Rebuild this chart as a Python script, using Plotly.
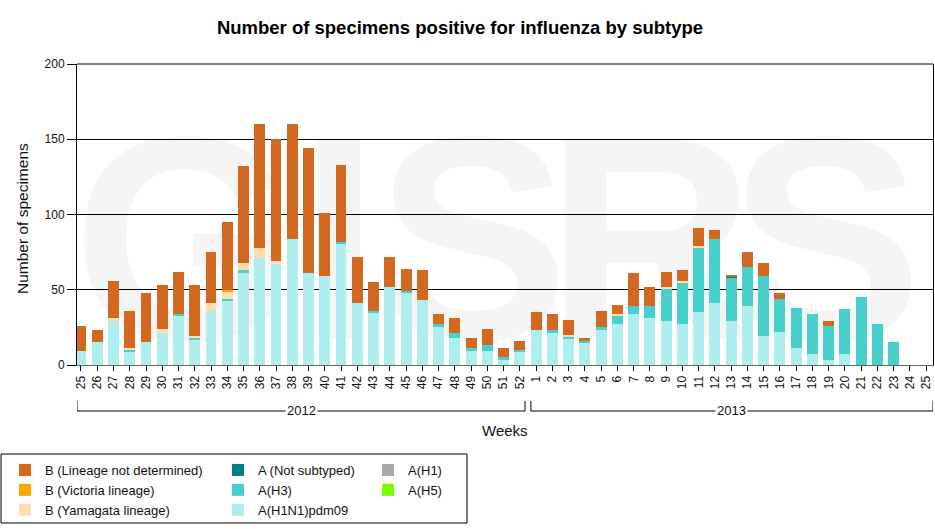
import plotly.graph_objects as go

# Weeks: 2012 wk 25-52, 2013 wk 1-25
weeks = [str(w) for w in range(25, 53)] + [str(w) for w in range(1, 26)]
n_2012 = 28

h1n1pdm09 = [9, 15, 29, 9, 15, 21, 33, 17, 36, 43, 61, 71, 67, 84, 61, 59, 81, 41, 35, 52, 48, 43, 25, 18, 9, 9, 3, 9,
             23, 21, 17, 15, 23, 27, 34, 31, 29, 27, 35, 41, 29, 39, 19, 22, 11, 7, 3, 7, 0, 0, 0, 0, 0]
h3 = [0, 0, 0, 1, 0, 0, 1, 1, 0, 1, 2, 0, 0, 0, 0, 0, 1, 0, 1, 0, 1, 0, 2, 3, 2, 4, 2, 1,
      0, 2, 2, 1, 2, 6, 5, 8, 22, 28, 43, 43, 29, 26, 40, 22, 27, 27, 23, 30, 45, 27, 15, 0, 0]
h1 = [0] * 53
h5 = [0] * 53
not_subtyped = [0] * 40 + [1] + [0] * 12
yamagata = [0, 0, 2, 1, 0, 3, 0, 1, 5, 5, 5, 7, 2, 0, 0, 0, 0, 0, 0, 0, 0, 0, 0, 0, 0, 0, 0, 0,
            0, 0, 1, 0, 0, 1, 0, 0, 1, 1, 1, 0, 0, 0, 0, 0, 0, 0, 0, 0, 0, 0, 0, 0, 0]
victoria = [0] * 9 + [1] + [0] * 43
b_not_determined = [17, 8, 25, 25, 33, 29, 28, 34, 34, 45, 64, 82, 81, 76, 83, 42, 51, 31, 19, 20, 15, 20, 7, 10, 7, 11, 6, 6,
                    12, 11, 10, 2, 11, 6, 22, 13, 10, 7, 12, 6, 1, 10, 9, 4, 0, 0, 3, 0, 0, 0, 0, 0, 0]

x = list(range(len(weeks)))

# (name, values, colour, legend, rank) in stacking order, bottom first
series = [
    ("A(H1N1)pdm09", h1n1pdm09, "#AFEEEE", "legend2", 3),
    ("A(H3)", h3, "#48D1CC", "legend2", 2),
    ("A(H1)", h1, "#A9A9A9", "legend3", 1),
    ("A(H5)", h5, "#7CFC00", "legend3", 2),
    ("A (Not subtyped)", not_subtyped, "#008080", "legend2", 1),
    ("B (Yamagata lineage)", yamagata, "#FFDEAD", "legend", 3),
    ("B (Victoria lineage)", victoria, "#FFA500", "legend", 2),
    ("B (Lineage not determined)", b_not_determined, "#D2691E", "legend", 1),
]

fig = go.Figure()
for name, vals, col, leg, rank in series:
    fig.add_trace(go.Bar(x=x, y=vals, name=name, marker=dict(color=col, line=dict(width=0)),
                         legend=leg, legendrank=rank))

font = "Liberation Sans, Arial, sans-serif"
x_lo, x_hi = -0.245, 52.42  # categories run a little tight against the box edges

# faint GISRS watermark behind the bars
shapes = []
for letter, x0, x1 in [("G", 110, 260), ("I", 309, 369), ("S", 396, 549), ("R", 571, 729), ("S", 748, 903)]:
    shapes.append(dict(type="rect", xref="paper", yref="paper", layer="below",
                       x0=(x0 - 77) / 856, x1=(x1 - 77) / 856, y0=(365 - 322) / 301, y1=(365 - 100) / 301,
                       line=dict(width=0), fillcolor="rgba(0,0,0,0)",
                       label=dict(text=letter, textposition="middle center",
                                  font=dict(family="Liberation Sans Narrow, Arial Narrow, " + font,
                                            size=290, color="#f5f5f5", weight="bold"))))

# top border of plot box
shapes.append(dict(type="line", xref="paper", yref="paper", x0=0, x1=1, y0=1, y1=1,
                   line=dict(color="black", width=1)))

# year brackets
yb, yt = (365 - 411) / 301, (365 - 401) / 301
brackets = [(x_lo, n_2012 - 0.68), (n_2012 - 0.32, x_hi)]
for x0, x1 in brackets:
    for xs in [(x0, x0, yt, yb), (x0, x1, yb, yb), (x1, x1, yb, yt)]:
        shapes.append(dict(type="line", xref="x", yref="paper", x0=xs[0], x1=xs[1], y0=xs[2], y1=xs[3],
                           line=dict(color="black", width=1)))

# legend frame
shapes.append(dict(type="rect", xref="paper", yref="paper",
                   x0=(1 - 77) / 856, x1=(467 - 77) / 856, y0=(365 - 523) / 301, y1=(365 - 454) / 301,
                   line=dict(color="black", width=1), fillcolor="rgba(0,0,0,0)"))

annotations = [
    dict(text=yr, x=(b[0] + b[1]) / 2, xref="x", y=yb, yref="paper", showarrow=False,
         bgcolor="white", font=dict(size=13, color="#111"), xanchor="center", yanchor="middle")
    for yr, b in zip(["2012", "2013"], brackets)
] + [
    dict(text="Weeks", x=0.5, xref="paper", y=(365 - 431) / 301, yref="paper", showarrow=False,
         font=dict(size=15, color="#111"), xanchor="center", yanchor="middle"),
    dict(text="Number of specimens", x=(23 - 77) / 856, xref="paper", y=(365 - 219) / 301, yref="paper",
         showarrow=False, textangle=-90, font=dict(size=15.5, color="#111"), xanchor="center", yanchor="middle"),
]

leg_common = dict(orientation="v", yanchor="top", xanchor="left", y=(365 - 455) / 301,
                  traceorder="normal", font=dict(size=13, color="#111"), bgcolor="rgba(0,0,0,0)")

fig.update_layout(
    width=935, height=529,
    barmode="stack", bargap=0.33,
    title=dict(text="<b>Number of specimens positive for influenza by subtype</b>", x=460 / 935, xref="container",
               xanchor="center", y=1 - 28 / 529, yanchor="middle", font=dict(size=18.5, color="black")),
    font=dict(family=font, size=12, color="#111"),
    paper_bgcolor="white", plot_bgcolor="white",
    margin=dict(l=77, r=2, t=64, b=164, autoexpand=False),
    xaxis=dict(range=[x_lo, x_hi], tickmode="array", tickvals=x, ticktext=weeks,
               tickangle=-90, ticks="outside", ticklen=5, tickcolor="black", showgrid=False,
               showline=True, linecolor="#666", linewidth=1, zeroline=False,
               ticklabeloverflow="allow", tickfont=dict(size=12, color="#111")),
    yaxis=dict(range=[0, 200], dtick=50, ticks="outside", ticklen=9, tickcolor="black",
               showgrid=True, gridcolor="black", gridwidth=1, showline=True, linecolor="black",
               linewidth=1, mirror=True, zeroline=False, tickfont=dict(size=12, color="#111")),
    legend=dict(x=(5 - 77) / 856, **leg_common),
    legend2=dict(x=(218 - 77) / 856, **leg_common),
    legend3=dict(x=(368 - 77) / 856, **leg_common),
    shapes=shapes,
    annotations=annotations,
)

# drop the page's default 8px body margin so the figure sits at the window's corner
fig.write_html("out.html", config={"displayModeBar": False},
               post_script="document.body.style.margin = '0';")
